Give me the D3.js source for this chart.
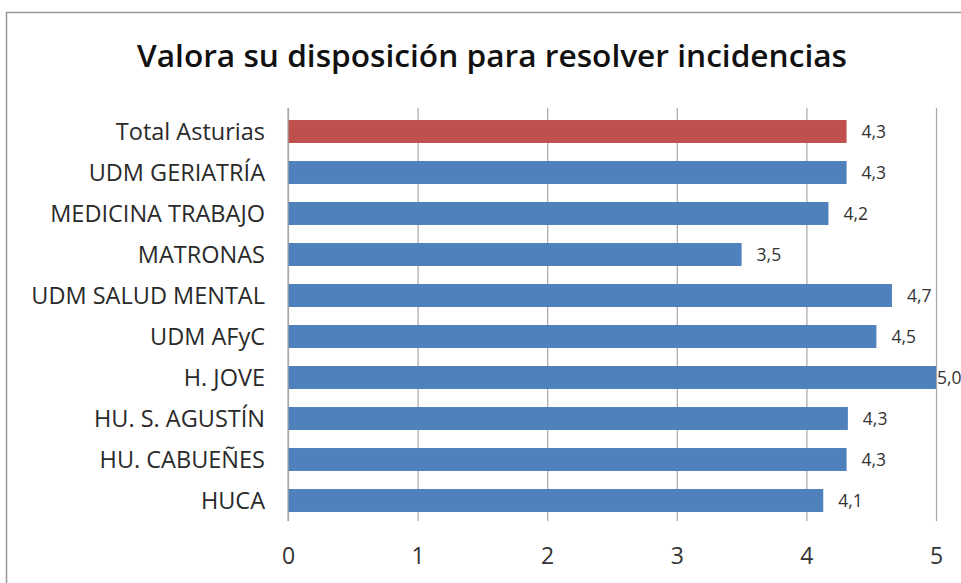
<!DOCTYPE html>
<html>
<head>
<meta charset="utf-8">
<script src="https://cdn.jsdelivr.net/npm/d3@7"></script>
<style>
    body { margin: 0; background: #fff; }
    text { font-family: "Open Sans", "DejaVu Sans", sans-serif; fill: #222; }
    .title { font-size: 30px; font-weight: 600; fill: #111; }
    .label { font-size: 23.5px; fill: #2a2a2a; }
    .valueLabel { font-size: 17.5px; fill: #333; }
    .xAxis text { font-size: 23px; fill: #333; }
</style>
</head>
<body>
<div id="chart"></div>
<script>
const categories = ['Total Asturias', 'UDM GERIATRÍA', 'MEDICINA TRABAJO', 'MATRONAS',
    'UDM SALUD MENTAL', 'UDM AFyC', 'H. JOVE', 'HU. S. AGUSTÍN', 'HU. CABUEÑES', 'HUCA'];
const values = [4.31, 4.31, 4.17, 3.50, 4.66, 4.54, 5.0, 4.32, 4.31, 4.13];
const valueLabels = ['4,3', '4,3', '4,2', '3,5', '4,7', '4,5', '5,0', '4,3', '4,3', '4,1'];
const xTicks = [0, 1, 2, 3, 4, 5];

const width = 961;
const height = 583;
const margin = { top: 111, right: 25, bottom: 62, left: 288 };

const svg = d3.select('#chart').append('svg')
    .attr('width', width)
    .attr('height', height);

// chart frame
svg.append('rect')
    .attr('x', 6.5)
    .attr('y', 12.5)
    .attr('width', 1000)
    .attr('height', 1000)
    .style('fill', 'none')
    .style('stroke', '#999')
    .style('stroke-width', 1.5);

svg.append('text')
    .attr('class', 'title')
    .attr('x', 492)
    .attr('y', 67)
    .attr('text-anchor', 'middle')
    .attr('textLength', 710)
    .attr('lengthAdjust', 'spacingAndGlyphs')
    .text('Valora su disposición para resolver incidencias');

let x = d3.scaleLinear()
    .domain([0, 5])
    .range([margin.left, 936]);

let y = d3.scaleBand()
    .domain(categories)
    .range([margin.top, height - margin.bottom])
    .paddingInner(0.44)
    .paddingOuter(0.22);

// gridlines
let xAxis = d3.axisBottom(x)
    .tickValues(xTicks)
    .tickSize(-(height - margin.bottom - margin.top + 3))
    .tickPadding(27)
    .tickFormat(d3.format('d'));

let gAxis = svg.append('g')
    .attr('class', 'xAxis')
    .attr('transform', `translate(0, ${height - margin.bottom})`)
    .call(xAxis);
gAxis.select('.domain').remove();
gAxis.selectAll('.tick line')
    .style('stroke', '#a6a6a6')
    .style('stroke-width', 1.2);

svg.selectAll('rect.bar')
    .data(values)
    .enter()
    .append('rect')
    .attr('class', 'bar')
    .attr('x', x(0))
    .attr('y', (d, i) => y(categories[i]))
    .attr('width', d => x(d) - x(0))
    .attr('height', y.bandwidth())
    .style('fill', (d, i) => i == 0 ? '#C0504D' : '#4F81BD');

// y axis line
svg.append('line')
    .attr('x1', x(0)).attr('x2', x(0))
    .attr('y1', margin.top - 3).attr('y2', height - margin.bottom)
    .style('stroke', '#a6a6a6')
    .style('stroke-width', 1.2);

svg.selectAll('text.label')
    .data(categories)
    .enter()
    .append('text')
    .attr('class', 'label')
    .attr('x', 265)
    .attr('y', d => y(d) + y.bandwidth() / 2)
    .attr('dy', '0.36em')
    .style('text-anchor', 'end')
    .text(d => d);

svg.selectAll('text.valueLabel')
    .data(values)
    .enter()
    .append('text')
    .attr('class', 'valueLabel')
    .attr('x', d => x(d) + (d >= 5 ? 1 : 15))
    .attr('y', (d, i) => y(categories[i]) + y.bandwidth() / 2)
    .attr('dy', '0.36em')
    .text((d, i) => valueLabels[i]);
</script>
</body>
</html>
